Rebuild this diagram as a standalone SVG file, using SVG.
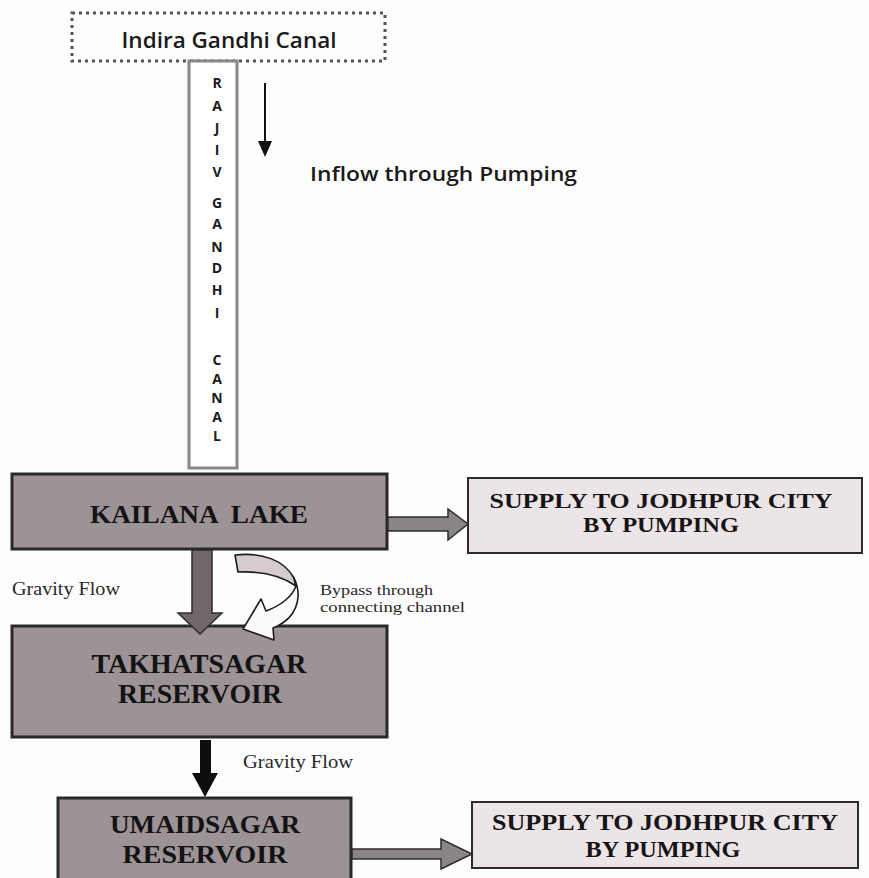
<svg xmlns="http://www.w3.org/2000/svg" width="869" height="878" viewBox="0 0 869 878">
<style>
.box{fill:#9b9395;stroke:#2b2828;stroke-width:3}
.supply{fill:#ece5e8;stroke:#2e2b2c;stroke-width:2}
.bt{font-family:"Liberation Serif","Times New Roman",serif;font-weight:bold;fill:#141212;text-anchor:middle}
.st{font-family:"Liberation Serif","Times New Roman",serif;font-weight:bold;fill:#161414;text-anchor:middle}
.lbl{font-family:"Liberation Serif","Times New Roman",serif;fill:#2a2828}
.canal{font-family:"Open Sans","Liberation Sans",sans-serif;font-weight:bold;font-size:14px;fill:#1a1a1a;text-anchor:middle}
.garrow{fill:#8a8486;stroke:#2e2b2c;stroke-width:1.5}
</style>
<rect width="869" height="878" fill="#fefdfd"/>

<g id="indira-gandhi-canal">
  <rect x="72" y="13" width="313" height="48" fill="none" stroke="#555" stroke-width="3" stroke-dasharray="3 4"/>
  <text x="229" y="48" font-family="'Open Sans','Liberation Sans',sans-serif" font-weight="600" font-size="21" fill="#1a1a1a" text-anchor="middle" textLength="215" lengthAdjust="spacingAndGlyphs">Indira Gandhi Canal</text>
</g>

<g id="rajiv-gandhi-canal">
  <rect x="189" y="61" width="48" height="407" fill="#ffffff" stroke="#8a8687" stroke-width="3"/>
  <text class="canal" x="217" y="88">R</text>
  <text class="canal" x="217" y="111">A</text>
  <text class="canal" x="217" y="133">J</text>
  <text class="canal" x="217" y="155">I</text>
  <text class="canal" x="217" y="177">V</text>
  <text class="canal" x="217" y="208">G</text>
  <text class="canal" x="217" y="229">A</text>
  <text class="canal" x="217" y="252">N</text>
  <text class="canal" x="217" y="273">D</text>
  <text class="canal" x="217" y="295">H</text>
  <text class="canal" x="217" y="318">I</text>
  <text class="canal" x="217" y="365">C</text>
  <text class="canal" x="217" y="384">A</text>
  <text class="canal" x="217" y="403">N</text>
  <text class="canal" x="217" y="422">A</text>
  <text class="canal" x="217" y="441">L</text>
</g>

<g id="inflow-label">
  <text x="310" y="181" font-family="'Open Sans','Liberation Sans',sans-serif" font-weight="600" font-size="20" fill="#1a1a1a" textLength="267" lengthAdjust="spacingAndGlyphs">Inflow through Pumping</text>
</g>

<g id="kailana-lake">
  <rect class="box" x="12" y="474" width="375" height="75"/>
  <text class="bt" x="199" y="523" font-size="26" textLength="218" lengthAdjust="spacingAndGlyphs" xml:space="preserve">KAILANA  LAKE</text>
</g>

<g id="supply-1">
  <rect class="supply" x="468" y="478" width="394" height="75"/>
  <text class="st" x="661" y="508" font-size="22" textLength="343" lengthAdjust="spacingAndGlyphs">SUPPLY TO JODHPUR CITY</text>
  <text class="st" x="661" y="532" font-size="22" textLength="156" lengthAdjust="spacingAndGlyphs">BY PUMPING</text>
</g>

<g id="takhatsagar-reservoir">
  <rect class="box" x="12" y="626" width="375" height="111"/>
  <text class="bt" x="199" y="673" font-size="27" textLength="215" lengthAdjust="spacingAndGlyphs">TAKHATSAGAR</text>
  <text class="bt" x="200" y="703" font-size="27" textLength="164" lengthAdjust="spacingAndGlyphs">RESERVOIR</text>
</g>

<g id="umaidsagar-reservoir">
  <rect class="box" x="58" y="798" width="293" height="82"/>
  <text class="bt" x="205" y="833" font-size="26" textLength="190" lengthAdjust="spacingAndGlyphs">UMAIDSAGAR</text>
  <text class="bt" x="205" y="863" font-size="26" textLength="165" lengthAdjust="spacingAndGlyphs">RESERVOIR</text>
</g>

<g id="supply-2">
  <rect class="supply" x="472" y="802" width="386" height="66"/>
  <text class="st" x="665" y="830" font-size="23" textLength="346" lengthAdjust="spacingAndGlyphs">SUPPLY TO JODHPUR CITY</text>
  <text class="st" x="663" y="857" font-size="23" textLength="155" lengthAdjust="spacingAndGlyphs">BY PUMPING</text>
</g>

<g id="connectors">
  <!-- inflow thin arrow -->
  <line x1="265" y1="83" x2="265" y2="143" stroke="#111" stroke-width="2"/>
  <polygon points="258,141 272,141 265,157" fill="#111"/>
  <!-- Kailana to supply 1 -->
  <polygon class="garrow" points="388,517 448,517 448,509 468,524 448,540 448,531 388,531"/>
  <!-- gravity flow Kailana to Takhatsagar -->
  <polygon points="192,550 212,550 212,613 222,613 200,634 178,613 192,613" fill="#6f6769" stroke="#2e2b2c" stroke-width="1.5"/>
  <!-- bypass curved arrow -->
  <path d="M235,555 C262,552 284,560 294,578 L296,586 C282,576 262,571 238,572 Z" fill="#d6cbcd" stroke="#1e1c1c" stroke-width="1.6" stroke-linejoin="round"/>
  <path d="M294,578 C302,594 298,612 284,622 C280,625 276,627 273,628 L274,640 L243,629 L261,599 L266,611 C280,606 292,597 296,586 Z" fill="#fbf9f9" stroke="#1e1c1c" stroke-width="1.6" stroke-linejoin="round"/>
  <!-- gravity flow Takhatsagar to Umaidsagar -->
  <polygon points="200,740 211,740 211,773 218,773 205,797 192,773 200,773" fill="#0e0e0e"/>
  <!-- Umaidsagar to supply 2 -->
  <polygon class="garrow" points="352,849 441,849 441,839 472,854 441,869 441,859 352,859"/>
</g>

<g id="labels">
  <text class="lbl" x="12" y="595" font-size="18" textLength="108" lengthAdjust="spacingAndGlyphs">Gravity Flow</text>
  <text class="lbl" x="320" y="595" font-size="15" textLength="113" lengthAdjust="spacingAndGlyphs">Bypass through</text>
  <text class="lbl" x="320" y="612" font-size="15" textLength="145" lengthAdjust="spacingAndGlyphs">connecting channel</text>
  <text class="lbl" x="243" y="768" font-size="18" textLength="110" lengthAdjust="spacingAndGlyphs">Gravity Flow</text>
</g>
</svg>
